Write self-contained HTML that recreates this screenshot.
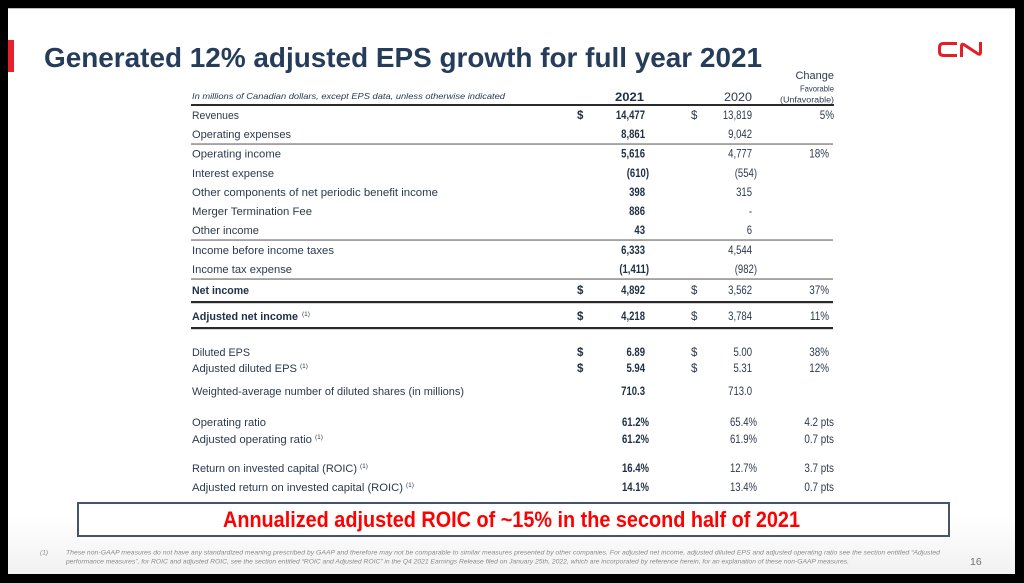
<!DOCTYPE html>
<html>
<head>
<meta charset="utf-8">
<style>
  html,body{margin:0;padding:0;background:#000;width:1024px;height:583px;overflow:hidden;}
  svg{display:block;}
  text{font-family:"Liberation Sans",Arial,sans-serif;}
  .lb{font-size:11px;fill:#2b3a4e;}
  .lbb{font-size:11px;fill:#1f2f45;font-weight:bold;}
  .sup{font-size:6.5px;fill:#2b3a4e;}
  .v1{font-size:11.5px;fill:#1f2f45;font-weight:bold;}
  .v2{font-size:11.5px;fill:#2b3a4e;}
  .ch{font-size:11.5px;fill:#2b3a4e;}
  .fn{font-size:6.6px;fill:#8a8a8a;font-style:italic;}
</style>
</head>
<body>
<svg width="1024" height="583" viewBox="0 0 1024 583" xmlns="http://www.w3.org/2000/svg">
  <defs>
    <linearGradient id="bg" x1="0" y1="0" x2="0" y2="1">
      <stop offset="0" stop-color="#ffffff"/>
      <stop offset="0.9" stop-color="#ffffff"/>
      <stop offset="1" stop-color="#f1f1f1"/>
    </linearGradient>
  </defs>
  <rect x="0" y="0" width="1024" height="583" fill="#000"/>
  <rect x="8" y="8" width="1007" height="566" fill="url(#bg)"/>
  <rect x="8" y="8" width="1007" height="1" fill="#bdbdbd"/>

  <!-- red accent bar -->
  <rect x="8" y="40" width="6" height="32" fill="#e8202a"/>

  <!-- title -->
  <text x="44" y="67" font-size="28" font-weight="bold" fill="#253d5b" textLength="718" lengthAdjust="spacingAndGlyphs">Generated 12% adjusted EPS growth for full year 2021</text>

  <!-- CN logo -->
  <g fill="none" stroke="#e41e26" stroke-width="3" stroke-linejoin="round">
    <path d="M957,43.5 H943.5 Q939.5,43.5 939.5,47.5 V51.5 Q939.5,55.5 943.5,55.5 H957"/>
    <path d="M961.5,57 V46.5 Q961.5,43 964.5,45 L977.5,53.5 Q980.5,55.5 980.5,52 V42"/>
  </g>

  <!-- header -->
  <text x="834" y="79" text-anchor="end" font-size="11" fill="#2b3a4e">Change</text>
  <text x="834" y="91.5" text-anchor="end" font-size="8.6" fill="#2b3a4e" textLength="34" lengthAdjust="spacingAndGlyphs">Favorable</text>
  <text x="834" y="102.5" text-anchor="end" font-size="8.6" fill="#2b3a4e" textLength="54" lengthAdjust="spacingAndGlyphs">(Unfavorable)</text>
  <text x="192" y="99" font-size="8.2" font-style="italic" fill="#2b3a4e" textLength="313" lengthAdjust="spacingAndGlyphs">In millions of Canadian dollars, except EPS data, unless otherwise indicated</text>
  <text x="644" y="101" text-anchor="end" font-size="11.5" font-weight="bold" fill="#1f2f45" textLength="29" lengthAdjust="spacingAndGlyphs">2021</text>
  <text x="752" y="101" text-anchor="end" font-size="11.5" fill="#2b3a4e" textLength="28" lengthAdjust="spacingAndGlyphs">2020</text>
  <rect x="191" y="104" width="643" height="2" fill="#2a2a2a"/>

  <!-- separator lines -->
  <rect x="191" y="143.3" width="642" height="1.5" fill="#8c8c8c"/>
  <rect x="191" y="239.3" width="642" height="1.5" fill="#8c8c8c"/>
  <rect x="191" y="278.3" width="642" height="1.5" fill="#8c8c8c"/>
  <rect x="191" y="301" width="642" height="2.2" fill="#2a2a2a"/>
  <rect x="191" y="327" width="642" height="2.2" fill="#2a2a2a"/>

  <!-- labels -->
  <text x="192" y="119" class="lb" textLength="47" lengthAdjust="spacingAndGlyphs">Revenues</text>
  <text x="192" y="138" class="lb" textLength="99" lengthAdjust="spacingAndGlyphs">Operating expenses</text>
  <text x="192" y="157.5" class="lb" textLength="89" lengthAdjust="spacingAndGlyphs">Operating income</text>
  <text x="192" y="177" class="lb" textLength="82" lengthAdjust="spacingAndGlyphs">Interest expense</text>
  <text x="192" y="196" class="lb" textLength="246" lengthAdjust="spacingAndGlyphs">Other components of net periodic benefit income</text>
  <text x="192" y="215" class="lb" textLength="120" lengthAdjust="spacingAndGlyphs">Merger Termination Fee</text>
  <text x="192" y="234" class="lb" textLength="67" lengthAdjust="spacingAndGlyphs">Other income</text>
  <text x="192" y="254" class="lb" textLength="142" lengthAdjust="spacingAndGlyphs">Income before income taxes</text>
  <text x="192" y="273" class="lb" textLength="100" lengthAdjust="spacingAndGlyphs">Income tax expense</text>
  <text x="192" y="294" class="lbb" textLength="57" lengthAdjust="spacingAndGlyphs">Net income</text>
  <text x="192" y="320" class="lbb" textLength="106" lengthAdjust="spacingAndGlyphs">Adjusted net income</text>
  <text x="302" y="316" class="sup">(1)</text>

  <text x="192" y="356" class="lb" textLength="58" lengthAdjust="spacingAndGlyphs">Diluted EPS</text>
  <text x="192" y="372" class="lb" textLength="105" lengthAdjust="spacingAndGlyphs">Adjusted diluted EPS</text>
  <text x="300" y="368" class="sup">(1)</text>
  <text x="192" y="395" class="lb" textLength="272" lengthAdjust="spacingAndGlyphs">Weighted-average number of diluted shares (in millions)</text>
  <text x="192" y="426" class="lb" textLength="74" lengthAdjust="spacingAndGlyphs">Operating ratio</text>
  <text x="192" y="443" class="lb" textLength="120" lengthAdjust="spacingAndGlyphs">Adjusted operating ratio</text>
  <text x="315" y="439" class="sup">(1)</text>
  <text x="192" y="472" class="lb" textLength="165" lengthAdjust="spacingAndGlyphs">Return on invested capital (ROIC)</text>
  <text x="360" y="468" class="sup">(1)</text>
  <text x="192" y="491" class="lb" textLength="211" lengthAdjust="spacingAndGlyphs">Adjusted return on invested capital (ROIC)</text>
  <text x="406" y="487" class="sup">(1)</text>

  <!-- $ signs -->
  <g font-size="11.5" fill="#1f2f45" font-weight="bold">
    <text x="577" y="119">$</text>
    <text x="577" y="294">$</text>
    <text x="577" y="320">$</text>
    <text x="577" y="356">$</text>
    <text x="577" y="372">$</text>
  </g>
  <g font-size="11.5" fill="#2b3a4e">
    <text x="691" y="119">$</text>
    <text x="691" y="294">$</text>
    <text x="691" y="320">$</text>
    <text x="691" y="356">$</text>
    <text x="691" y="372">$</text>
  </g>

  <!-- 2021 column (bold) -->
  <g transform="translate(645,0) scale(0.83,1)">
    <text x="0" y="119" text-anchor="end" class="v1">14,477</text>
    <text x="0" y="138" text-anchor="end" class="v1">8,861</text>
    <text x="0" y="157.5" text-anchor="end" class="v1">5,616</text>
    <text x="0" y="196" text-anchor="end" class="v1">398</text>
    <text x="0" y="215" text-anchor="end" class="v1">886</text>
    <text x="0" y="234" text-anchor="end" class="v1">43</text>
    <text x="0" y="254" text-anchor="end" class="v1">6,333</text>
    <text x="0" y="294" text-anchor="end" class="v1">4,892</text>
    <text x="0" y="320" text-anchor="end" class="v1">4,218</text>
    <text x="0" y="356" text-anchor="end" class="v1">6.89</text>
    <text x="0" y="372" text-anchor="end" class="v1">5.94</text>
    <text x="0" y="395" text-anchor="end" class="v1">710.3</text>
  </g>
  <g transform="translate(649,0) scale(0.83,1)">
    <text x="0" y="177" text-anchor="end" class="v1">(610)</text>
    <text x="0" y="273" text-anchor="end" class="v1">(1,411)</text>
    <text x="0" y="426" text-anchor="end" class="v1">61.2%</text>
    <text x="0" y="443" text-anchor="end" class="v1">61.2%</text>
    <text x="0" y="472" text-anchor="end" class="v1">16.4%</text>
    <text x="0" y="491" text-anchor="end" class="v1">14.1%</text>
  </g>

  <!-- 2020 column -->
  <g transform="translate(752,0) scale(0.83,1)">
    <text x="0" y="119" text-anchor="end" class="v2">13,819</text>
    <text x="0" y="138" text-anchor="end" class="v2">9,042</text>
    <text x="0" y="157.5" text-anchor="end" class="v2">4,777</text>
    <text x="0" y="196" text-anchor="end" class="v2">315</text>
    <text x="0" y="215" text-anchor="end" class="v2">-</text>
    <text x="0" y="234" text-anchor="end" class="v2">6</text>
    <text x="0" y="254" text-anchor="end" class="v2">4,544</text>
    <text x="0" y="294" text-anchor="end" class="v2">3,562</text>
    <text x="0" y="320" text-anchor="end" class="v2">3,784</text>
    <text x="0" y="356" text-anchor="end" class="v2">5.00</text>
    <text x="0" y="372" text-anchor="end" class="v2">5.31</text>
    <text x="0" y="395" text-anchor="end" class="v2">713.0</text>
  </g>
  <g transform="translate(757,0) scale(0.83,1)">
    <text x="0" y="177" text-anchor="end" class="v2">(554)</text>
    <text x="0" y="273" text-anchor="end" class="v2">(982)</text>
    <text x="0" y="426" text-anchor="end" class="v2">65.4%</text>
    <text x="0" y="443" text-anchor="end" class="v2">61.9%</text>
    <text x="0" y="472" text-anchor="end" class="v2">12.7%</text>
    <text x="0" y="491" text-anchor="end" class="v2">13.4%</text>
  </g>

  <!-- change column -->
  <g transform="translate(834,0) scale(0.86,1)">
    <text x="0" y="119" text-anchor="end" class="ch">5%</text>
    <text x="0" y="426" text-anchor="end" class="ch">4.2  pts</text>
    <text x="0" y="443" text-anchor="end" class="ch">0.7  pts</text>
    <text x="0" y="472" text-anchor="end" class="ch">3.7  pts</text>
    <text x="0" y="491" text-anchor="end" class="ch">0.7  pts</text>
  </g>
  <g transform="translate(829,0) scale(0.86,1)">
    <text x="0" y="157.5" text-anchor="end" class="ch">18%</text>
    <text x="0" y="294" text-anchor="end" class="ch">37%</text>
    <text x="0" y="320" text-anchor="end" class="ch">11%</text>
    <text x="0" y="356" text-anchor="end" class="ch">38%</text>
    <text x="0" y="372" text-anchor="end" class="ch">12%</text>
  </g>

  <!-- callout box -->
  <rect x="78" y="503" width="871" height="33" fill="#ffffff" stroke="#44546a" stroke-width="2"/>
  <text x="223" y="527" font-size="22" font-weight="bold" fill="#ff0000" textLength="577" lengthAdjust="spacingAndGlyphs">Annualized adjusted ROIC of ~15% in the second half of 2021</text>

  <!-- footnote -->
  <text x="40" y="554.5" class="fn">(1)</text>
  <text x="66" y="554.5" class="fn" textLength="874" lengthAdjust="spacingAndGlyphs">These non-GAAP measures do not have any standardized meaning prescribed by GAAP and therefore may not be comparable to similar measures presented by other companies. For adjusted net income, adjusted diluted EPS and adjusted operating ratio see the section entitled “Adjusted</text>
  <text x="66" y="563.5" class="fn" textLength="783" lengthAdjust="spacingAndGlyphs">performance measures”, for ROIC and adjusted ROIC, see the section entitled “ROIC and Adjusted ROIC” in the Q4 2021 Earnings Release filed on January 25th, 2022, which are incorporated by reference herein, for an explanation of these non-GAAP measures.</text>

  <!-- page number -->
  <text x="970" y="565" font-size="10.5" fill="#6f6f6f">16</text>
</svg>
</body>
</html>
